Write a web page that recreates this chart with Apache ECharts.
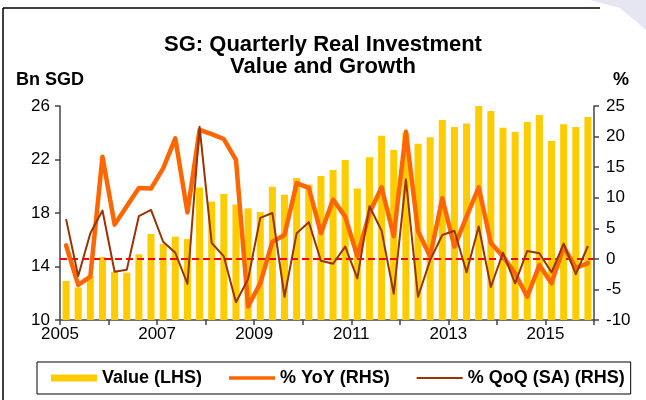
<!DOCTYPE html>
<html>
<head>
<meta charset="utf-8">
<script src="https://cdn.jsdelivr.net/npm/echarts@6/dist/echarts.min.js"></script>
<style>
  html, body { margin: 0; padding: 0; background: #fff; }
  #chart { width: 646px; height: 400px; }
</style>
</head>
<body>
<div id="chart"></div>
<script>
// quarterly, 2005Q1 .. 2015Q4
const years = [2005, 2006, 2007, 2008, 2009, 2010, 2011, 2012, 2013, 2014, 2015];
const quarters = [];
years.forEach(y => { for (let q = 1; q <= 4; q++) quarters.push(y + 'Q' + q); });

// Bn SGD (LHS)
const investValue = [12.92, 12.44, 13.29, 14.71, 13.61, 13.54, 14.91, 16.43, 15.68, 16.23, 16.06,
  19.9, 18.85, 19.42, 18.63, 18.35, 18.07, 19.97, 19.37, 20.62, 20.14, 20.77,
  21.21, 21.96, 19.84, 22.16, 23.78, 22.71, 23.98, 23.18, 23.66, 24.95, 24.43,
  24.69, 26.0, 25.63, 24.38, 24.06, 24.8, 25.33, 23.38, 24.63, 24.43, 25.18];

// % (RHS)
const yoy = [2.2, -4.25, -2.9, 16.7, 5.6, 8.6, 11.6, 11.5, 14.8, 19.7, 7.6,
  21.1, 20.4, 19.6, 16.2, -7.8, -4.0, 2.8, 3.9, 12.4, 11.6, 4.2,
  9.7, 6.9, 0.4, 7.5, 11.7, 3.7, 20.8, 4.5, 0.4, 9.9, 2.0,
  6.9, 11.7, 2.6, 0.4, -2.4, -6.2, -1.0, -4.0, 2.0, -1.5, -0.7];

const qoq = [6.5, -2.8, 4.2, 7.9, -2.1, -1.8, 7.0, 8.0, 2.8, 1.0, -4.1,
  21.6, 2.6, 0.4, -7.1, -3.3, 6.7, 7.5, -6.2, 4.2, 6.0, -0.3,
  -0.8, 2.0, -3.2, 8.6, 4.6, -5.7, 13.0, -6.2, -0.2, 3.9, 4.6,
  -2.2, 5.3, -4.6, 1.0, -4.0, 1.3, 0.9, -2.2, 2.5, -2.5, 2.1];

const font = 'Arial, "Liberation Sans", sans-serif';
const axisColor = '#444';

const chart = echarts.init(document.getElementById('chart'));

chart.setOption({
  animation: false,
  backgroundColor: '#fff',
  textStyle: { fontFamily: font },
  title: {
    text: 'SG: Quarterly Real Investment\nValue and Growth',
    left: 'center',
    top: 29,
    textStyle: { fontSize: 22, fontWeight: 'bold', color: '#000', lineHeight: 22, fontFamily: font }
  },
  graphic: [
    { type: 'line', shape: { x1: 3, y1: 8, x2: 600, y2: 8 }, style: { stroke: '#000', lineWidth: 1.5 } },
    { type: 'line', shape: { x1: 3, y1: 8, x2: 3, y2: 400 }, style: { stroke: '#000', lineWidth: 1.5 } },
    { type: 'polygon', shape: { points: [[590, 0], [646, 0], [646, 30], [620, 8]] }, style: { fill: '#e6e6f2' } },
    { type: 'text', left: 16, top: 71, style: { text: 'Bn SGD', font: 'bold 18px ' + font, fill: '#000' } },
    { type: 'text', left: 613, top: 71, style: { text: '%', font: 'bold 18px ' + font, fill: '#000' } }
  ],
  legend: {
    left: 37,
    top: 362,
    padding: [7, 6, 7, 14],
    itemGap: 27,
    itemWidth: 46,
    itemHeight: 7,
    borderColor: '#000',
    borderWidth: 1,
    textStyle: { fontSize: 18, fontWeight: 'bold', color: '#000', fontFamily: font },
    data: [
      { name: 'Value (LHS)', icon: 'rect' },
      { name: '% YoY (RHS)', icon: 'path://M0,0H46V3.5H0Z', symbolKeepAspect: true },
      { name: '% QoQ (SA) (RHS)', icon: 'path://M0,0H44V2H0Z', symbolKeepAspect: true }
    ]
  },
  grid: { left: 60, right: 52, top: 106, bottom: 80 },
  xAxis: [
    {
      type: 'category',
      data: quarters,
      show: false,
      boundaryGap: true
    },
    {
      type: 'value',
      min: 0,
      max: 44,
      interval: 4,
      position: 'bottom',
      axisLine: { show: true, lineStyle: { color: axisColor, width: 1.5 } },
      axisTick: { show: true, inside: false, length: 5, lineStyle: { color: axisColor, width: 1.5 } },
      splitLine: { show: false },
      axisLabel: {
        fontSize: 17, color: '#000', margin: 6,
        formatter: v => (v % 8 === 0 ? String(2005 + v / 4) : '')
      }
    }
  ],
  yAxis: [
    {
      type: 'value',
      min: 10,
      max: 26,
      interval: 4,
      axisLine: { show: true, lineStyle: { color: axisColor, width: 1.5 } },
      axisTick: { show: true, inside: false, length: 5, lineStyle: { color: axisColor, width: 1.5 } },
      splitLine: { show: false },
      axisLabel: { fontSize: 17, color: '#000', margin: 10 }
    },
    {
      type: 'value',
      min: -10,
      max: 25,
      interval: 5,
      position: 'right',
      axisLine: { show: true, lineStyle: { color: axisColor, width: 1.5 } },
      axisTick: { show: true, inside: false, length: 5, lineStyle: { color: axisColor, width: 1.5 } },
      splitLine: { show: false },
      axisLabel: { fontSize: 17, color: '#000', margin: 12 }
    }
  ],
  series: [
    {
      name: 'Value (LHS)',
      type: 'bar',
      xAxisIndex: 0,
      yAxisIndex: 0,
      data: investValue,
      barWidth: '58%',
      itemStyle: { color: '#FFCC00' },
      z: 1
    },
    {
      name: '% YoY (RHS)',
      type: 'line',
      xAxisIndex: 0,
      yAxisIndex: 1,
      data: yoy,
      symbol: 'none',
      lineStyle: { color: '#FF6600', width: 4.5, join: 'round', cap: 'round' },
      itemStyle: { color: '#FF6600' },
      z: 3,
      markLine: {
        silent: true,
        symbol: ['none', 'none'],
        label: { show: false },
        lineStyle: { color: '#FF0000', type: [7, 4], width: 2 },
        data: [{ yAxis: 0 }],
        z: 2
      }
    },
    {
      name: '% QoQ (SA) (RHS)',
      type: 'line',
      xAxisIndex: 0,
      yAxisIndex: 1,
      data: qoq,
      symbol: 'none',
      lineStyle: { color: '#993300', width: 2, join: 'round' },
      itemStyle: { color: '#993300' },
      z: 4
    }
  ]
});
</script>
</body>
</html>
